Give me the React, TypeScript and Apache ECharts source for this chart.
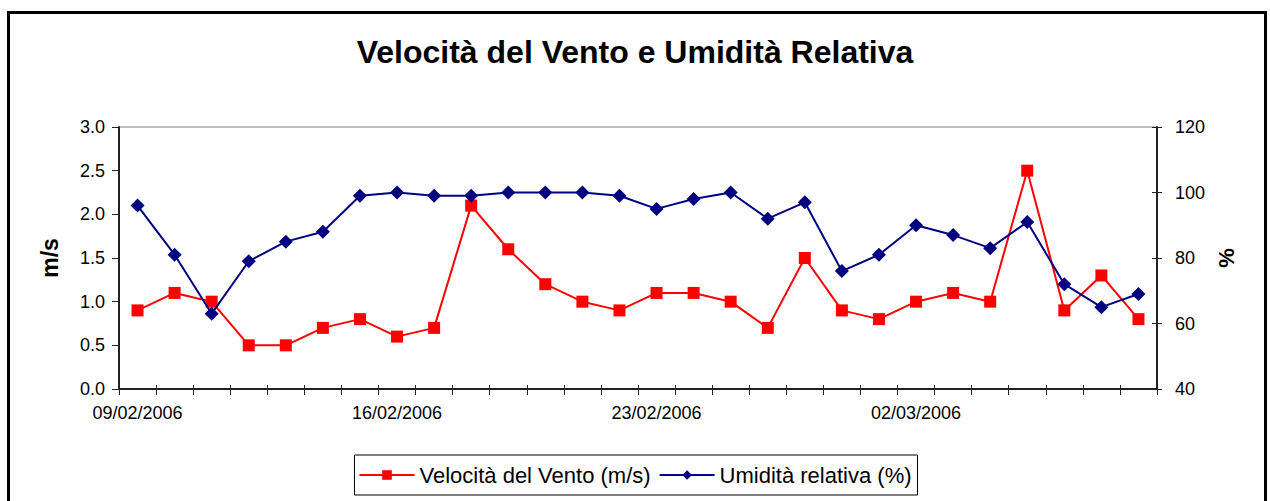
import React, { useEffect, useRef } from "react";
import * as echarts from "echarts";

const categories = [
  "09/02/2006", "10/02/2006", "11/02/2006", "12/02/2006", "13/02/2006", "14/02/2006", "15/02/2006",
  "16/02/2006", "17/02/2006", "18/02/2006", "19/02/2006", "20/02/2006", "21/02/2006", "22/02/2006",
  "23/02/2006", "24/02/2006", "25/02/2006", "26/02/2006", "27/02/2006", "28/02/2006", "01/03/2006",
  "02/03/2006", "03/03/2006", "04/03/2006", "05/03/2006", "06/03/2006", "07/03/2006", "08/03/2006",
];

const windSpeed = [
  0.9, 1.1, 1.0, 0.5, 0.5, 0.7, 0.8, 0.6, 0.7, 2.1, 1.6, 1.2, 1.0, 0.9,
  1.1, 1.1, 1.0, 0.7, 1.5, 0.9, 0.8, 1.0, 1.1, 1.0, 2.5, 0.9, 1.3, 0.8,
];

const humidity = [
  96, 81, 63, 79, 85, 88, 99, 100, 99, 99, 100, 100, 100, 99,
  95, 98, 100, 92, 97, 76, 81, 90, 87, 83, 91, 72, 65, 69,
];

const title = "Velocità del Vento e Umidità Relativa";
const windName = "Velocità del Vento (m/s)";
const humName = "Umidità relativa (%)";

const FONT = "'Liberation Sans', Arial, sans-serif";

export default function App() {
  const ref = useRef<HTMLDivElement>(null);
  useEffect(() => {
    if (!ref.current) return;
    const chart = echarts.init(ref.current, null, { renderer: "svg" });
    const axisColor = "#222";
    chart.setOption({
      animation: false,
      backgroundColor: "#fff",
      textStyle: { fontFamily: FONT, color: "#000" },
      title: {
        text: title,
        left: "center",
        top: 31,
        textStyle: { fontFamily: FONT, fontWeight: "bold", fontSize: 32, color: "#000" },
      },
      graphic: [
        {
          type: "rect",
          shape: { x: 8.5, y: 12.5, width: 1257, height: 540 },
          style: { fill: "none", stroke: "#000", lineWidth: 3 },
          silent: true,
        },
      ],
      legend: {
        top: 455,
        left: "center",
        data: [windName, humName],
        itemWidth: 55,
        itemHeight: 12,
        itemGap: 8,
        padding: [9, 6, 9, 4],
        borderColor: "#000",
        borderWidth: 1,
        borderRadius: 0,
        textStyle: { fontFamily: FONT, fontSize: 22, color: "#000" },
      },
      grid: {
        left: 119,
        right: 113,
        top: 127,
        bottom: 112,
        show: true,
        borderColor: "#808080",
        borderWidth: 1,
        backgroundColor: "transparent",
      },
      xAxis: [
        {
          type: "category",
          data: categories,
          boundaryGap: true,
          axisLine: { lineStyle: { color: axisColor, width: 2 } },
          axisTick: { show: true, interval: 0, length: 6, lineStyle: { color: axisColor, width: 1 } },
          axisLabel: {
            interval: 6,
            margin: 15,
            fontFamily: FONT,
            fontSize: 18,
            color: "#000",
          },
          splitLine: { show: false },
        },
        {
          type: "category",
          data: categories,
          position: "bottom",
          boundaryGap: true,
          axisLine: { show: false },
          axisTick: { show: true, inside: true, interval: 0, length: 4, lineStyle: { color: axisColor, width: 1 } },
          axisLabel: { show: false },
          splitLine: { show: false },
        },
      ],
      yAxis: [
        {
          type: "value",
          position: "left",
          min: 0,
          max: 3,
          interval: 0.5,
          name: "m/s",
          nameLocation: "middle",
          nameRotate: 90,
          nameGap: 58,
          nameTextStyle: { fontFamily: FONT, fontWeight: "bold", fontSize: 23, color: "#000" },
          axisLine: { show: true, lineStyle: { color: axisColor, width: 2 } },
          axisTick: { show: true, length: 7, lineStyle: { color: axisColor, width: 1 } },
          axisLabel: {
            margin: 14,
            fontFamily: FONT,
            fontSize: 18,
            color: "#000",
            formatter: (v: number) => v.toFixed(1),
          },
          splitLine: { show: false },
        },
        {
          type: "value",
          position: "right",
          min: 40,
          max: 120,
          interval: 20,
          name: "%",
          nameLocation: "middle",
          nameRotate: 90,
          nameGap: 56,
          nameTextStyle: { fontFamily: FONT, fontWeight: "bold", fontSize: 22, color: "#000" },
          axisLine: { show: true, lineStyle: { color: axisColor, width: 2 } },
          axisTick: { show: true, length: 5, lineStyle: { color: axisColor, width: 1 } },
          axisLabel: { margin: 18, fontFamily: FONT, fontSize: 18, color: "#000" },
          splitLine: { show: false },
        },
        {
          type: "value",
          position: "right",
          min: 40,
          max: 120,
          interval: 20,
          axisLine: { show: false },
          axisTick: { show: true, inside: true, length: 5, lineStyle: { color: axisColor, width: 1 } },
          axisLabel: { show: false },
          splitLine: { show: false },
        },
      ],
      series: [
        {
          name: windName,
          type: "line",
          xAxisIndex: 0,
          yAxisIndex: 0,
          data: windSpeed,
          symbol: "rect",
          symbolSize: 12,
          lineStyle: { color: "#FF0000", width: 2 },
          itemStyle: { color: "#FF0000" },
          z: 3,
        },
        {
          name: humName,
          type: "line",
          xAxisIndex: 0,
          yAxisIndex: 1,
          data: humidity,
          symbol: "diamond",
          symbolSize: 14,
          lineStyle: { color: "#000080", width: 2 },
          itemStyle: { color: "#000080" },
          z: 4,
        },
      ],
    });
    return () => chart.dispose();
  }, []);
  return (
    <div
      ref={ref}
      style={{ position: "fixed", left: 0, top: 0, width: 1270, height: 501, background: "#fff" }}
    />
  );
}
